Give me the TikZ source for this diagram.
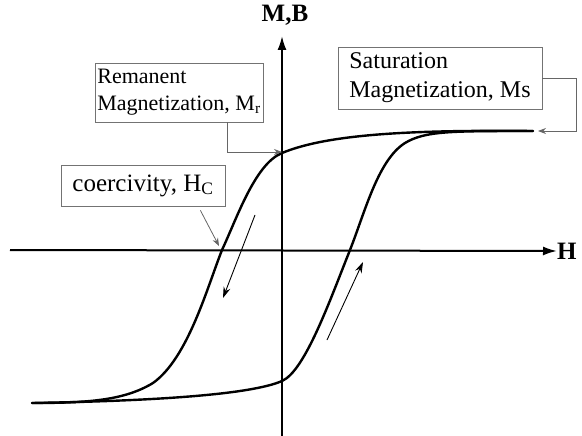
\documentclass[tikz,border=0pt]{standalone}
\usepackage{fontspec}
\setmainfont{Liberation Serif}
\usetikzlibrary{arrows.meta}
\begin{document}
\begin{tikzpicture}[x=1pt,y=-1pt,
  lbl/.style={draw=black!55,line width=.8pt,align=left,inner sep=0pt},
  lead/.style={draw=black!60,line width=.8pt,-{Stealth[length=8pt,width=6pt]}},
  dir/.style={line width=.9pt,-{Stealth[length=11pt,width=7pt]}},
  curve/.style={line width=2.4pt,line join=round,line cap=round}]
\useasboundingbox(0,0)rectangle(582,436);
% axes
\coordinate(h0)at(10,250);\coordinate(m0)at(282,436);\coordinate(mtop)at(282,36);
\node[anchor=west,inner sep=0pt,font=\fontsize{25}{25}\selectfont\bfseries](H)at(557,251){H};
\node[inner sep=0pt,font=\fontsize{25}{25}\selectfont\bfseries](MB)at(285,15){M,B};
\draw[line width=2pt,-{Latex[length=14pt,width=9pt]}](h0)--(H.west);
\draw[line width=2pt,-{Latex[length=14pt,width=9pt]}](m0)--(mtop);
% loop
\draw[curve](533,131)..controls(420,130)and(330,133)..(282,153)..controls(255,164)and(237,218)..(222,250)
  ..controls(207,288)and(188,358)..(153,383)..controls(125,400)and(90,403)..(32,403);
\draw[curve](32,403)..controls(150,401)and(250,395)..(282,381)..controls(305,371)and(330,300)..(350,250)
  ..controls(365,212)and(378,160)..(405,143)..controls(425,131)and(450,131)..(533,131);
\draw[dir](255,215)--(223,298);\draw[dir](327,340)--(363,262);
% labels
\node[lbl,minimum width=168pt,minimum height=59pt,font=\fontsize{22}{27}\selectfont](rem)at(179,92.5){Remanent\\Magnetization, M\textsubscript{r}};
\node[lbl,minimum width=204pt,minimum height=62pt,font=\fontsize{24}{29}\selectfont](sat)at(440,78){Saturation\\Magnetization, Ms};
\node[lbl,minimum width=164pt,minimum height=41pt,font=\fontsize{25}{25}\selectfont](coer)at(143,185.5){coercivity, H\textsubscript{C}};
\coordinate(mr)at(282,152);\coordinate(ms)at(538,131);\coordinate(hc)at(219,246);
\draw[lead]([xshift=-36pt]rem.south east)|-(mr);
\draw[lead](sat.east)--++(34,0)|-(ms);
\draw[lead]([xshift=-25pt,yshift=-4pt]coer.south east)--(hc);
\end{tikzpicture}
\end{document}
